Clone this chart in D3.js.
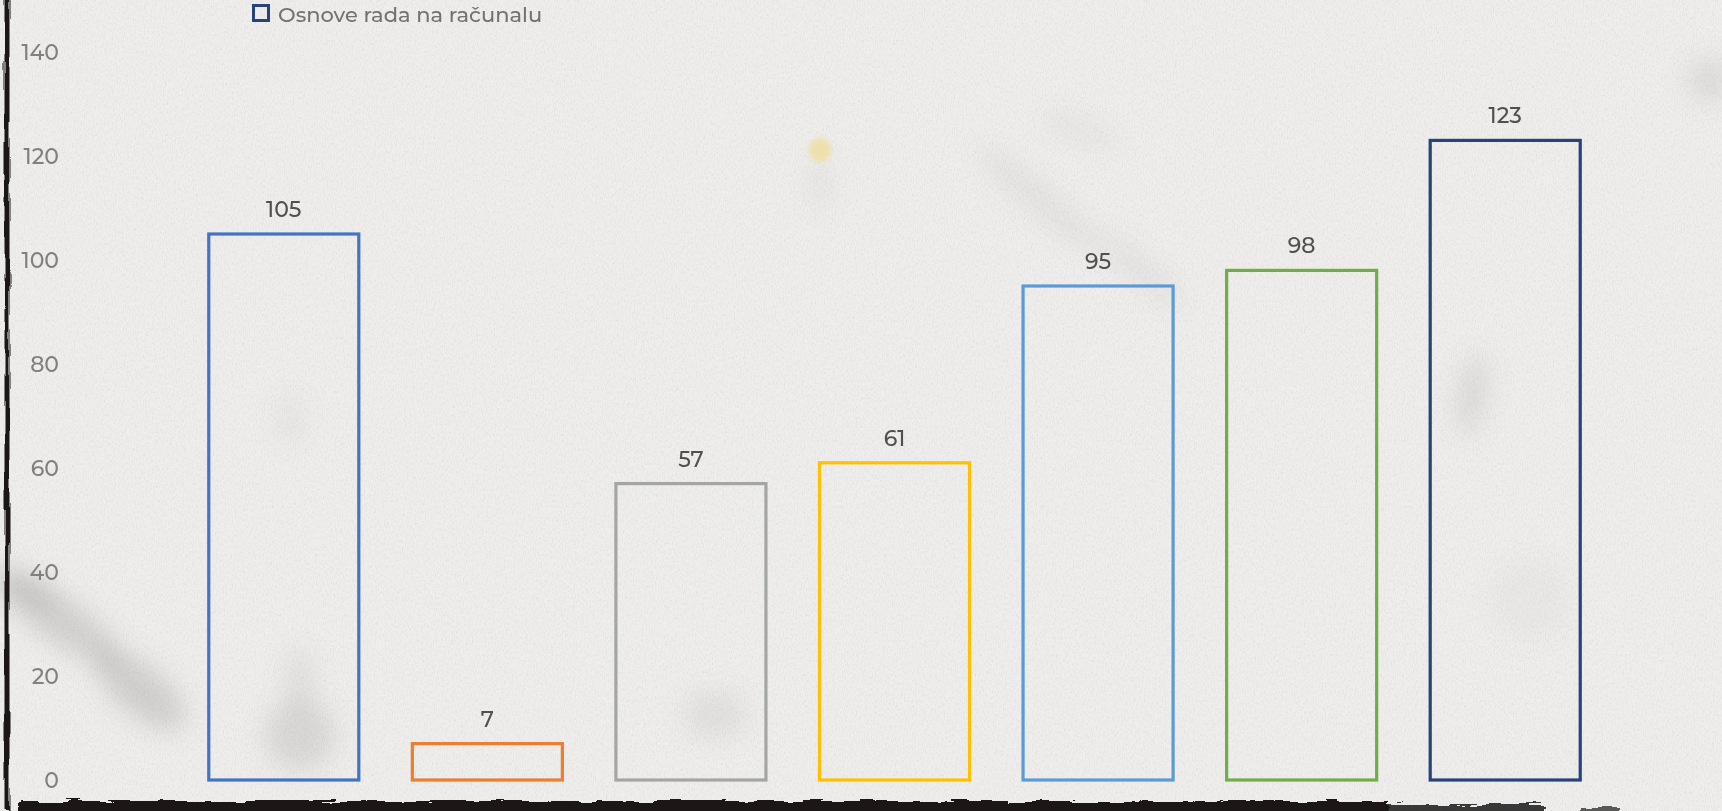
<!DOCTYPE html>
<html>
<head>
<meta charset="utf-8">
<script src="https://cdn.jsdelivr.net/npm/d3@7"></script>
<style>
  html, body { margin: 0; padding: 0; background: #efeeec; overflow: hidden; }
  svg { display: block; }
  text { font-family: "Montserrat", "Inter", "Open Sans", sans-serif; font-weight: 500; }
</style>
</head>
<body>
<svg id="chart" width="1722" height="811"></svg>
<script>
// Course enrolment counts, one outlined bar per course
const values = [105, 7, 57, 61, 95, 98, 123];
const barColors = ["#4472C4", "#ED7D31", "#A5A5A5", "#FFC000", "#5B9BD5", "#70AD47", "#264478"];
const yTicks = [0, 20, 40, 60, 80, 100, 120, 140];
const legendLabel = "Osnove rada na računalu";
const legendColor = "#264478";

const W = 1722, H = 811;
const svg = d3.select("#chart");
const defs = svg.append("defs");

// paper grain
const grain = defs.append("filter").attr("id", "grain").attr("x", 0).attr("y", 0).attr("width", "100%").attr("height", "100%");
grain.append("feTurbulence").attr("type", "fractalNoise").attr("baseFrequency", "0.9 0.35").attr("numOctaves", 3).attr("seed", 4).attr("result", "n");
grain.append("feColorMatrix").attr("in", "n").attr("type", "matrix")
  .attr("values", "0 0 0 0 0.55  0 0 0 0 0.55  0 0 0 0 0.54  0 0 0 -1.3 0.75").attr("result", "g");
grain.append("feComposite").attr("in", "g").attr("in2", "SourceGraphic").attr("operator", "in");

// soft smudge blur
defs.append("filter").attr("id", "smudge").attr("x", "-50%").attr("y", "-50%").attr("width", "200%").attr("height", "200%")
  .append("feGaussianBlur").attr("stdDeviation", 12);
defs.append("filter").attr("id", "soft").attr("x", "-50%").attr("y", "-50%").attr("width", "200%").attr("height", "200%")
  .append("feGaussianBlur").attr("stdDeviation", 2.5);

// ragged ink edges: one for the horizontal band, one for the vertical stroke
const roughH = defs.append("filter").attr("id", "roughH").attr("x", "-5%").attr("y", "-80%").attr("width", "110%").attr("height", "260%");
roughH.append("feTurbulence").attr("type", "fractalNoise").attr("baseFrequency", "0.035 0.25").attr("numOctaves", 3).attr("seed", 7).attr("result", "t");
roughH.append("feDisplacementMap").attr("in", "SourceGraphic").attr("in2", "t").attr("scale", 9).attr("xChannelSelector", "R").attr("yChannelSelector", "G");

const roughV = defs.append("filter").attr("id", "roughV").attr("x", "-200%").attr("y", "-5%").attr("width", "500%").attr("height", "110%");
roughV.append("feTurbulence").attr("type", "fractalNoise").attr("baseFrequency", "0.3 0.02").attr("numOctaves", 2).attr("seed", 3).attr("result", "t");
roughV.append("feDisplacementMap").attr("in", "SourceGraphic").attr("in2", "t").attr("scale", 5).attr("xChannelSelector", "R").attr("yChannelSelector", "G");

// background paper
svg.append("rect").attr("width", W).attr("height", H).attr("fill", "#efeeec");
svg.append("rect").attr("width", W).attr("height", H).attr("fill", "#efeeec").attr("filter", "url(#grain)").attr("opacity", 0.55);

// grey stains on the paper
const stains = svg.append("g").attr("filter", "url(#smudge)");
[
  [60, 620, 70, 22, 35, 0.26], [140, 690, 55, 24, 40, 0.28], [20, 585, 40, 14, 30, 0.2],
  [300, 735, 35, 35, 0, 0.2], [300, 680, 14, 30, 0, 0.14], [290, 420, 14, 24, 0, 0.08], [715, 715, 32, 24, 0, 0.12],
  [1040, 200, 80, 12, 40, 0.12], [1140, 270, 55, 10, 40, 0.13], [1080, 130, 40, 9, 20, 0.1],
  [1472, 395, 14, 40, 10, 0.18], [1710, 80, 22, 22, 0, 0.16], [1530, 600, 40, 40, 0, 0.05],
  [820, 185, 8, 25, 0, 0.12]
].forEach(([cx, cy, rx, ry, rot, op]) => {
  stains.append("ellipse").attr("cx", cx).attr("cy", cy).attr("rx", rx).attr("ry", ry)
    .attr("transform", `rotate(${rot},${cx},${cy})`).attr("fill", "#808080").attr("opacity", op);
});
svg.append("ellipse").attr("cx", 820).attr("cy", 150).attr("rx", 11).attr("ry", 12)
  .attr("fill", "#eedfa6").attr("opacity", 0.9).attr("filter", "url(#soft)");

// scales
const x = d3.scaleBand().domain(d3.range(values.length)).range([182, 1607]).paddingInner(0.263).paddingOuter(0.1315);
const y = d3.scaleLinear().domain([0, 140]).range([780, 52]);

// y axis labels
const yAxis = svg.append("g").attr("transform", "translate(59,0)")
  .call(d3.axisLeft(y).tickValues(yTicks).tickSize(0).tickPadding(0));
yAxis.select(".domain").remove();
yAxis.selectAll("text").attr("font-size", 22).attr("fill", "#808080").attr("dy", "0.34em")
  .style("font-family", '"Montserrat", "Inter", "Open Sans", sans-serif').style("font-weight", 500);

// outlined bars
svg.append("g").selectAll("rect").data(values).join("rect")
  .attr("x", (d, i) => x(i))
  .attr("y", d => y(d))
  .attr("width", x.bandwidth())
  .attr("height", d => y(0) - y(d))
  .attr("fill", "none")
  .attr("stroke", (d, i) => barColors[i])
  .attr("stroke-width", 3.2);

// value labels
svg.append("g").selectAll("text").data(values).join("text")
  .attr("x", (d, i) => x(i) + x.bandwidth() / 2)
  .attr("y", d => y(d) - 17)
  .attr("text-anchor", "middle")
  .attr("font-size", 22)
  .attr("fill", "#505050")
  .text(d => d);

// legend
const leg = svg.append("g");
leg.append("rect").attr("x", 253.5).attr("y", 5.5).attr("width", 15).attr("height", 15)
  .attr("fill", "none").attr("stroke", legendColor).attr("stroke-width", 3);
leg.append("text").attr("x", 278).attr("y", 22).attr("font-size", 21).attr("fill", "#767171").text(legendLabel);

// ink frame: left stroke and ragged bottom band
svg.append("rect").attr("x", 4.5).attr("y", -20).attr("width", 5).attr("height", 830)
  .attr("fill", "#1a1818").attr("filter", "url(#roughV)");
const ink = svg.append("g").attr("filter", "url(#roughH)");
ink.append("rect").attr("x", 18).attr("y", 801).attr("width", 1370).attr("height", 24).attr("fill", "#1a1818");
ink.append("rect").attr("x", 1385).attr("y", 804).attr("width", 160).attr("height", 20).attr("fill", "#1a1818").attr("opacity", 0.85);
ink.append("rect").attr("x", 1580).attr("y", 807).attr("width", 40).attr("height", 10).attr("fill", "#1a1818").attr("opacity", 0.7);
</script>
</body>
</html>
